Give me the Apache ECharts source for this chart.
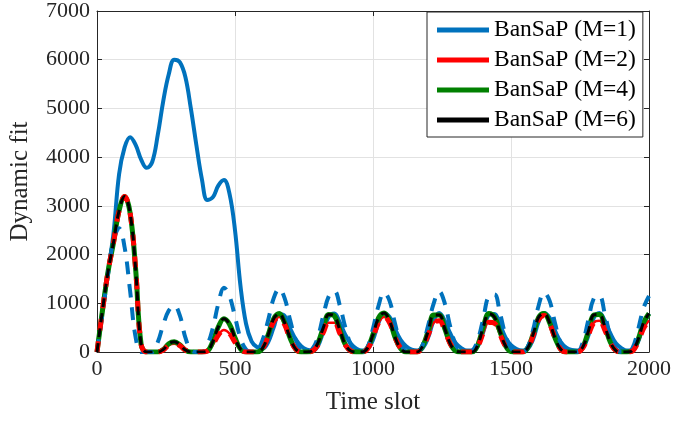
<!DOCTYPE html>
<html>
<head>
<meta charset="utf-8">
<script src="https://cdn.jsdelivr.net/npm/echarts@6/dist/echarts.min.js"></script>
<style>
html,body{margin:0;padding:0;background:#fff;}
#chart{width:674px;height:426px;}
</style>
</head>
<body>
<div id="chart"></div>
<script>
// sampling grid of time slots (step 20)
const timeSlots = Array.from({length: 101}, (_, i) => i * 20);

const legendNames = ['BanSaP (M=1)', 'BanSaP (M=2)', 'BanSaP (M=4)', 'BanSaP (M=6)'];
const xTicks = [0, 500, 1000, 1500, 2000];
const yTicks = [0, 1000, 2000, 3000, 4000, 5000, 6000, 7000];

// M=1 solid
const fitM1 = [
  0,860,1650,2450,3650,4200,4410,4250,3950,3780,
  3900,4450,5150,5700,6000,5950,5650,5000,4250,3550,
  3120,3180,3420,3530,3250,2500,1350,580,220,100,
  70,200,500,780,740,480,260,120,50,30,
  120,420,730,790,600,350,170,70,30,60,
  250,600,790,720,470,250,120,50,30,80,
  300,650,800,640,380,180,80,30,30,120,
  420,760,780,560,300,140,60,30,60,260,
  620,800,700,430,210,90,40,30,80,330,
  700,800,640,380,180,80,30,40,200,550,
  790];

// M=1 dashed
const fitM1Dashed = [
  0,800,1600,2300,2540,2150,1250,300,0,0,
  0,200,560,850,950,750,300,40,0,0,
  150,500,1000,1320,1150,720,280,50,0,30,
  250,650,1100,1300,1100,650,250,50,0,60,
  300,750,1150,1250,950,500,150,20,0,100,
  480,950,1220,1050,580,180,20,0,0,150,
  550,1000,1240,1000,520,150,20,0,30,250,
  700,1150,1180,800,350,80,0,0,100,450,
  950,1220,1050,580,180,20,0,0,200,650,
  1100,1150,780,330,70,0,0,80,450,900,
  1150];

// M=2
const fitM2 = [
  0,860,1650,2250,2900,3190,2850,1700,150,0,
  0,0,40,140,170,130,40,0,0,0,
  20,150,350,450,380,200,50,0,0,0,
  70,320,620,720,560,260,60,0,0,20,
  140,400,600,600,380,140,20,0,0,60,
  300,600,720,600,300,80,0,0,0,100,
  350,600,640,440,170,30,0,0,0,120,
  400,610,590,360,120,10,0,0,70,330,
  660,750,580,280,60,0,0,0,80,340,
  600,640,450,180,30,0,0,20,200,480,
  650];

// M=4
const fitM4 = [
  0,860,1650,2250,2900,3190,2850,1700,150,0,
  0,0,50,170,210,150,40,0,0,0,
  20,220,520,680,570,290,60,0,0,0,
  80,350,680,790,600,280,60,0,0,20,
  180,500,770,740,450,150,20,0,0,80,
  360,700,800,640,300,70,0,0,0,120,
  430,760,760,480,170,20,0,0,0,150,
  520,790,720,420,130,10,0,0,80,360,
  710,790,600,280,60,0,0,0,100,420,
  760,770,520,200,30,0,0,30,250,600,
  790];

// M=6
const fitM6 = [
  0,860,1650,2250,2900,3190,2850,1700,150,0,
  0,0,50,170,210,150,40,0,0,0,
  20,220,520,680,570,290,60,0,0,0,
  80,350,680,790,600,280,60,0,0,20,
  180,500,770,740,450,150,20,0,0,80,
  360,700,800,640,300,70,0,0,0,120,
  430,760,760,480,170,20,0,0,0,150,
  520,790,720,420,130,10,0,0,80,360,
  710,790,600,280,60,0,0,0,100,420,
  760,770,520,200,30,0,0,30,250,600,
  790];

const FONT = 'Liberation Serif';
const AX = '#262626';
const pairs = arr => timeSlots.map((x, i) => [x, arr[i]]);
const plain = v => String(v);

function lineSeries(name, data, color, width, type, z) {
  return {
    name: name, type: 'line', data: pairs(data), symbol: 'none', showSymbol: false,
    smooth: 0.4, clip: true, z: z,
    lineStyle: {color: color, width: width, type: type, cap: 'butt', join: 'round'},
    itemStyle: {color: color},
    emphasis: {disabled: true}
  };
}

const chart = echarts.init(document.getElementById('chart'), null, {renderer: 'canvas'});
const baseAxisLine = {show: true, onZero: false, lineStyle: {color: AX, width: 1}};
chart.setOption({
  animation: false,
  backgroundColor: '#fff',
  grid: {left: 97, right: 25, top: 8, bottom: 74, containLabel: false},
  xAxis: [{
    type: 'value', position: 'bottom', min: xTicks[0], max: xTicks[xTicks.length - 1], interval: xTicks[1] - xTicks[0],
    axisLine: baseAxisLine,
    axisTick: {show: true, inside: true, length: 5, lineStyle: {color: AX}},
    axisLabel: {fontFamily: FONT, fontSize: 22, color: AX, margin: 6, formatter: plain},
    splitLine: {show: true, lineStyle: {color: '#e2e2e2', width: 1}},
    name: 'Time slot', nameLocation: 'middle', nameGap: 38,
    nameTextStyle: {fontFamily: FONT, fontSize: 25, color: AX}
  }, {
    type: 'value', position: 'top', min: xTicks[0], max: xTicks[xTicks.length - 1], interval: xTicks[1] - xTicks[0],
    axisLine: baseAxisLine,
    axisTick: {show: true, inside: true, length: 5, lineStyle: {color: AX}},
    axisLabel: {show: false}, splitLine: {show: false}
  }],
  yAxis: [{
    type: 'value', position: 'left', min: yTicks[0], max: yTicks[yTicks.length - 1], interval: yTicks[1] - yTicks[0],
    axisLine: baseAxisLine,
    axisTick: {show: true, inside: true, length: 5, lineStyle: {color: AX}},
    axisLabel: {fontFamily: FONT, fontSize: 22, color: AX, margin: 7, formatter: plain},
    splitLine: {show: true, lineStyle: {color: '#e2e2e2', width: 1}},
    name: 'Dynamic fit', nameLocation: 'middle', nameGap: 64, nameRotate: 90,
    nameTextStyle: {fontFamily: FONT, fontSize: 25, color: AX}
  }, {
    type: 'value', position: 'right', min: yTicks[0], max: yTicks[yTicks.length - 1], interval: yTicks[1] - yTicks[0],
    axisLine: baseAxisLine,
    axisTick: {show: true, inside: true, length: 5, lineStyle: {color: AX}},
    axisLabel: {show: false}, splitLine: {show: false}
  }],
  legend: {
    orient: 'vertical', left: 427, top: 12,
    padding: [6, 7, 5, 10],
    backgroundColor: '#fff', borderColor: AX, borderWidth: 1, borderRadius: 0,
    icon: 'rect',
    itemWidth: 52, itemHeight: 5, itemGap: 6,
    textStyle: {fontFamily: FONT, fontSize: 23.5, color: '#000', lineHeight: 23},
    data: legendNames
  },
  series: [
    lineSeries(legendNames[0], fitM1, '#0072BD', 4, 'solid', 2),
    lineSeries(legendNames[1], fitM2, '#FF0000', 2.5, 'solid', 3),
    lineSeries(legendNames[2], fitM4, '#008000', 5, 'solid', 4),
    lineSeries('M1 dashed', fitM1Dashed, '#0072BD', 4, [13, 10], 5),
    lineSeries('M2 dashed', fitM2, '#FF0000', 5, [11, 11], 6),
    lineSeries(legendNames[3], fitM6, '#000000', 3, [9, 6], 7)
  ]
});
</script>
</body>
</html>
